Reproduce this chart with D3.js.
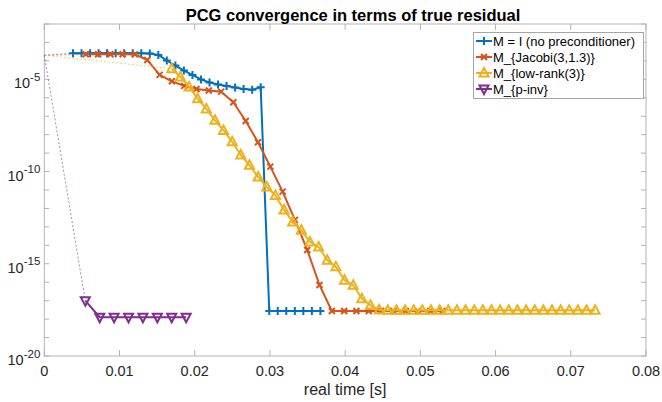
<!DOCTYPE html>
<html lang="en">
<head>
<meta charset="UTF-8">
<script src="https://d3js.org/d3.v7.min.js"></script>
<style>
    body { margin: 0; background: #fff; font-family: Arial, 'Liberation Sans', sans-serif; }
    .tick-label { font-size: 14.5px; fill: #262626; }
    .legend-text { font-size: 13px; fill: #000; }
</style>
<title>PCG convergence</title>
</head>
<body>
<div id="chart"></div>
<script>
// x axis ticks and y decades
const xTicks = [0, 0.01, 0.02, 0.03, 0.04, 0.05, 0.06, 0.07, 0.08];
const yLabelExps = [-5, -10, -15, -20];
const r0 = 2.0e-4;   // residual at t = 0 (dotted start)

// M = I (no preconditioner)
const tBlue = [0.00382, 0.00495, 0.00609, 0.00722, 0.00835, 0.00949, 0.01062, 0.01176, 0.01289, 0.01403,
               0.01516, 0.01629, 0.01743, 0.01856, 0.01970, 0.02083, 0.02197, 0.02310, 0.02423, 0.02537,
               0.02650, 0.02764, 0.02877, 0.02991, 0.03104, 0.03217, 0.03331, 0.03444, 0.03558, 0.03671];
const rBlue = [2.6e-4, 2.6e-4, 2.6e-4, 2.6e-4, 2.6e-4, 2.6e-4, 2.6e-4, 2.6e-4, 2.6e-4, 2.5e-4,
               2.1e-4, 1.05e-4, 5.6e-5, 3.0e-5, 1.74e-5, 9.8e-6, 6.8e-6, 5.2e-6, 4.4e-6, 3.6e-6,
               3.0e-6, 2.7e-6, 3.7e-6, 2.75e-18, 2.75e-18, 2.75e-18, 2.75e-18, 2.75e-18, 2.75e-18, 2.75e-18];

// M_{Jacobi(3,1.3)}
const tOrange = [0.00551, 0.00715, 0.00878, 0.01042, 0.01205, 0.01369, 0.01533, 0.01696, 0.01860, 0.02023,
                 0.02187, 0.02351, 0.02514, 0.02678, 0.02841, 0.03005, 0.03169, 0.03332, 0.03496, 0.03659,
                 0.03823, 0.03987, 0.04150, 0.04314, 0.04477, 0.04641, 0.04805, 0.04968, 0.05132, 0.05295];
const rOrange = [2.3e-4, 2.3e-4, 2.3e-4, 2.3e-4, 2.25e-4, 1.12e-4, 1.74e-5, 7.8e-6, 4.4e-6, 3.0e-6,
                 2.5e-6, 2.15e-6, 5.7e-7, 5.5e-8, 3.9e-9, 1.86e-10, 8.2e-12, 2.4e-13, 5.6e-15, 7.1e-17,
                 2.75e-18, 2.75e-18, 2.75e-18, 2.75e-18, 2.75e-18, 2.75e-18, 2.75e-18, 2.75e-18, 2.75e-18, 2.75e-18];

// M_{low-rank(3)}
const tYellow = [0.01694, 0.01809, 0.01924, 0.02039, 0.02154, 0.02269, 0.02383, 0.02498, 0.02613, 0.02728,
                 0.02843, 0.02958, 0.03073, 0.03188, 0.03303, 0.03418, 0.03532, 0.03647, 0.03762, 0.03877,
                 0.03992, 0.04107, 0.04222, 0.04337, 0.04452, 0.04567, 0.04681, 0.04796, 0.04911, 0.05026,
                 0.05141, 0.05256, 0.05371, 0.05486, 0.05601, 0.05716, 0.05830, 0.05945, 0.06060, 0.06175,
                 0.06290, 0.06405, 0.06520, 0.06635, 0.06750, 0.06865, 0.06979, 0.07094, 0.07209, 0.07324];
const rYellow = [3.8e-5, 1.35e-5, 3.9e-6, 8.9e-7, 2.5e-7, 6.0e-8, 1.7e-8, 4.1e-9, 7.9e-10, 2.2e-10,
                 5.1e-11, 1.45e-11, 5.1e-12, 8.3e-13, 1.86e-13, 6.6e-14, 1.53e-14, 8.1e-15, 1.55e-15, 6.8e-16,
                 1.29e-16, 6.8e-17, 1.29e-17, 5.6e-18, 3.2e-18, 3.0e-18, 3.0e-18, 3.0e-18, 3.0e-18, 3.0e-18,
                 3.0e-18, 3.0e-18, 3.0e-18, 3.0e-18, 3.0e-18, 3.0e-18, 3.0e-18, 3.0e-18, 3.0e-18, 3.0e-18,
                 3.0e-18, 3.0e-18, 3.0e-18, 3.0e-18, 3.0e-18, 3.0e-18, 3.0e-18, 3.0e-18, 3.0e-18, 3.0e-18];

// M_{p-inv}
const tPurple = [0.00545, 0.00737, 0.00928, 0.01120, 0.01311, 0.01503, 0.01694, 0.01886];
const rPurple = [1.0e-17, 1.26e-18, 1.26e-18, 1.26e-18, 1.26e-18, 1.26e-18, 1.26e-18, 1.26e-18];

const seriesNames = ["M = I (no preconditioner)", "M_{Jacobi(3,1.3)}", "M_{low-rank(3)}", "M_{p-inv}"];
const seriesColors = ["#0072BD", "#D95319", "#EDB120", "#7E2F8E"];
const seriesMarkers = ["plus", "cross", "up", "down"];

const W = 662, H = 402;
const margin = {top: 24, right: 16, bottom: 46, left: 44.3};

const svg = d3.select("#chart").append("svg")
    .attr("width", W).attr("height", H);

const x = d3.scaleLinear().domain([0, 0.08]).range([margin.left, W - margin.right]);
const y = d3.scaleLog().domain([1e-20, 1e-2]).range([H - margin.bottom, margin.top]);

const axisColor = "#b3b3b3";

// box around plot
svg.append("rect")
    .attr("x", x(0)).attr("y", y(1e-2))
    .attr("width", x(0.08) - x(0)).attr("height", y(1e-20) - y(1e-2))
    .attr("fill", "none").attr("stroke", axisColor).attr("stroke-width", 1);

// x ticks, bottom and top, pointing inward
xTicks.forEach(t => {
    svg.append("line").attr("x1", x(t)).attr("x2", x(t))
        .attr("y1", y(1e-20)).attr("y2", y(1e-20) - 6).attr("stroke", axisColor);
    svg.append("line").attr("x1", x(t)).attr("x2", x(t))
        .attr("y1", y(1e-2)).attr("y2", y(1e-2) + 6).attr("stroke", axisColor);
    svg.append("text").attr("class", "tick-label")
        .attr("x", x(t)).attr("y", y(1e-20) + 20)
        .attr("text-anchor", "middle")
        .text(t === 0 ? "0" : t.toFixed(2));
});

// y ticks at every decade, left and right
d3.range(-20, -1).forEach(e => {
    const v = Math.pow(10, e);
    svg.append("line").attr("x1", x(0)).attr("x2", x(0) + 5)
        .attr("y1", y(v)).attr("y2", y(v)).attr("stroke", axisColor);
    svg.append("line").attr("x1", x(0.08)).attr("x2", x(0.08) - 5)
        .attr("y1", y(v)).attr("y2", y(v)).attr("stroke", axisColor);
});

yLabelExps.forEach(e => {
    const v = Math.pow(10, e);
    const txt = svg.append("text").attr("class", "tick-label")
        .attr("x", x(0) - 4).attr("y", y(v) + 9)
        .attr("text-anchor", "end");
    txt.append("tspan").text("10");
    txt.append("tspan").attr("dy", -7.5).style("font-size", "11.5px").text(String(e));
});

// title and axis label
svg.append("text")
    .attr("x", 353).attr("y", 21)
    .attr("text-anchor", "middle")
    .style("font-size", "16.5px").style("font-weight", "bold").style("fill", "#000")
    .text("PCG convergence in terms of true residual");

svg.append("text")
    .attr("x", (x(0) + x(0.08)) / 2).attr("y", 395)
    .attr("text-anchor", "middle")
    .style("font-size", "16px").style("fill", "#262626")
    .text("real time [s]");

// marker drawing
function drawMarker(g, kind, cx, cy, color) {
    if (kind === "plus") {
        g.append("path").attr("d", `M${cx-4},${cy}H${cx+4}M${cx},${cy-4}V${cy+4}`)
            .attr("stroke", color).attr("stroke-width", 2).attr("fill", "none");
    } else if (kind === "cross") {
        g.append("path").attr("d", `M${cx-3},${cy-3}L${cx+3},${cy+3}M${cx-3},${cy+3}L${cx+3},${cy-3}`)
            .attr("stroke", color).attr("stroke-width", 2).attr("fill", "none");
    } else if (kind === "up") {
        g.append("path").attr("d", `M${cx},${cy-5}L${cx+4.5},${cy+3.5}L${cx-4.5},${cy+3.5}Z`)
            .attr("stroke", color).attr("stroke-width", 2).attr("fill", "none");
    } else {
        g.append("path").attr("d", `M${cx},${cy+5}L${cx+4.5},${cy-3.5}L${cx-4.5},${cy-3.5}Z`)
            .attr("stroke", color).attr("stroke-width", 2).attr("fill", "none");
    }
}

const allT = [tBlue, tOrange, tYellow, tPurple];
const allR = [rBlue, rOrange, rYellow, rPurple];

const line = d3.line().x(d => x(d[0])).y(d => y(d[1]));

allT.forEach((ts, k) => {
    const pts = ts.map((t, i) => [t, allR[k][i]]);
    const g = svg.append("g");
    // dotted start segment from t = 0
    g.append("path")
        .attr("d", line([[0, r0], pts[0]]))
        .attr("fill", "none").attr("stroke", seriesColors[k])
        .attr("stroke-width", 1).attr("stroke-dasharray", "2,2").attr("opacity", 0.6);
    g.append("path")
        .attr("d", line(pts))
        .attr("fill", "none").attr("stroke", seriesColors[k])
        .attr("stroke-width", 2).attr("stroke-linejoin", "round");
    pts.forEach(p => drawMarker(g, seriesMarkers[k], x(p[0]), y(p[1]), seriesColors[k]));
});

// legend
const lg = svg.append("g");
lg.append("rect").attr("x", 473.5).attr("y", 32.5).attr("width", 170).attr("height", 66)
    .attr("fill", "#fff").attr("stroke", "#a6a6a6");
seriesNames.forEach((name, k) => {
    const ly = 41 + k * 16;
    lg.append("line").attr("x1", 476).attr("x2", 492).attr("y1", ly).attr("y2", ly)
        .attr("stroke", seriesColors[k]).attr("stroke-width", 2);
    drawMarker(lg, seriesMarkers[k], 484, ly, seriesColors[k]);
    lg.append("text").attr("class", "legend-text")
        .attr("x", 493).attr("y", ly + 5).text(name);
});
</script>
</body>
</html>
